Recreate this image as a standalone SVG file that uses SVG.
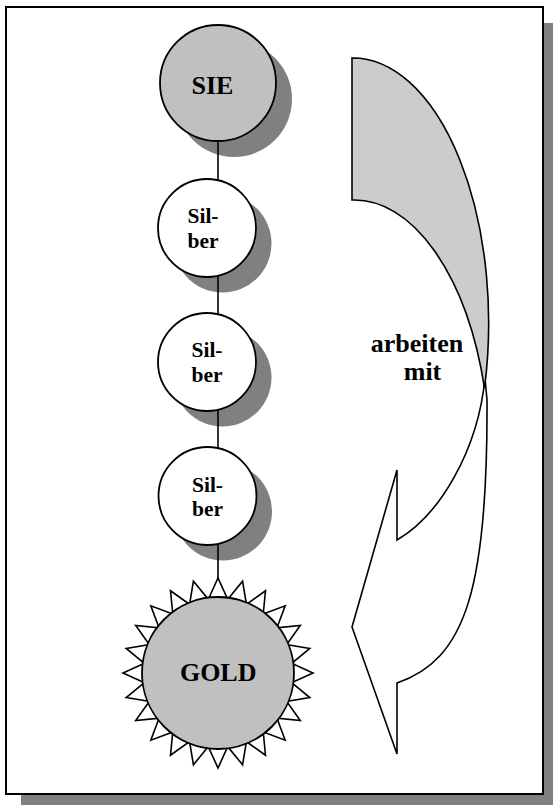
<svg xmlns="http://www.w3.org/2000/svg" xmlns:xlink="http://www.w3.org/1999/xlink" width="553" height="805" viewBox="0 0 553 805">
<style>
.lbl{font-family:"Liberation Serif","Times New Roman",serif;font-weight:bold;fill:#000;text-anchor:middle}
.big{font-size:26px}
.sm{font-size:21.5px}
.shadow{fill:#808080;stroke:none}
.ol{stroke:#000;stroke-width:1.8}
</style>
<defs>
<polygon id="spike" points="73,-10 95,0 73,10" fill="#fff" stroke="#000" stroke-width="1.6" stroke-linejoin="miter"/>
</defs>
<rect x="21" y="23" width="532" height="782" class="shadow"/>
<rect x="6" y="7" width="537" height="787" fill="#fff" stroke="#000" stroke-width="2"/>

<g id="shadows">
<circle cx="234" cy="99" r="58" class="shadow"/>
<circle cx="222.5" cy="243.5" r="49" class="shadow"/>
<circle cx="222.5" cy="377.5" r="49" class="shadow"/>
<circle cx="223" cy="511.5" r="49" class="shadow"/>
</g>

<g id="connectors">
<line x1="218" y1="141" x2="218" y2="600" stroke="#000" stroke-width="1.6"/>
</g>

<g id="node-sie">
<circle cx="218" cy="83" r="58" fill="#c0c0c0" class="ol"/>
<text x="212.5" y="94" class="lbl big">SIE</text>
</g>
<g id="node-silber1">
<circle cx="207" cy="228" r="49" fill="#fff" class="ol"/>
<text x="203" y="223" class="lbl sm">Sil-</text>
<text x="203" y="247.5" class="lbl sm">ber</text>
</g>
<g id="node-silber2">
<circle cx="207" cy="362" r="49" fill="#fff" class="ol"/>
<text x="207" y="357" class="lbl sm">Sil-</text>
<text x="207" y="381.5" class="lbl sm">ber</text>
</g>
<g id="node-silber3">
<circle cx="207.5" cy="496" r="49" fill="#fff" class="ol"/>
<text x="207.5" y="491.5" class="lbl sm">Sil-</text>
<text x="207.5" y="516" class="lbl sm">ber</text>
</g>
<g id="node-gold">
<g transform="translate(218 673)">
<use xlink:href="#spike" transform="rotate(0)"/>
<use xlink:href="#spike" transform="rotate(15)"/>
<use xlink:href="#spike" transform="rotate(30)"/>
<use xlink:href="#spike" transform="rotate(45)"/>
<use xlink:href="#spike" transform="rotate(60)"/>
<use xlink:href="#spike" transform="rotate(75)"/>
<use xlink:href="#spike" transform="rotate(90)"/>
<use xlink:href="#spike" transform="rotate(105)"/>
<use xlink:href="#spike" transform="rotate(120)"/>
<use xlink:href="#spike" transform="rotate(135)"/>
<use xlink:href="#spike" transform="rotate(150)"/>
<use xlink:href="#spike" transform="rotate(165)"/>
<use xlink:href="#spike" transform="rotate(180)"/>
<use xlink:href="#spike" transform="rotate(195)"/>
<use xlink:href="#spike" transform="rotate(210)"/>
<use xlink:href="#spike" transform="rotate(225)"/>
<use xlink:href="#spike" transform="rotate(240)"/>
<use xlink:href="#spike" transform="rotate(255)"/>
<use xlink:href="#spike" transform="rotate(270)"/>
<use xlink:href="#spike" transform="rotate(285)"/>
<use xlink:href="#spike" transform="rotate(300)"/>
<use xlink:href="#spike" transform="rotate(315)"/>
<use xlink:href="#spike" transform="rotate(330)"/>
<use xlink:href="#spike" transform="rotate(345)"/>
<circle cx="0" cy="0" r="76" fill="#c0c0c0" class="ol"/>
</g>
<text x="218.2" y="681" class="lbl big">GOLD</text>
</g>

<g id="curved-arrow">
<path d="M485,378 L487,400 C488,590 465,660 397,683 L397,754 L352,627 L397,470 L397,540 C440,515 478,450 485,378 Z" fill="#fff" stroke="#000" stroke-width="1.6" stroke-linejoin="miter"/>
<path d="M352,58 A136,265 0 0 1 484.5,388 A136,265 0 0 0 352,200 Z" fill="#cccccc" stroke="#000" stroke-width="1.6"/>
<text x="417" y="352" class="lbl big">arbeiten</text>
<text x="422.5" y="380" class="lbl big">mit</text>
</g>
</svg>
